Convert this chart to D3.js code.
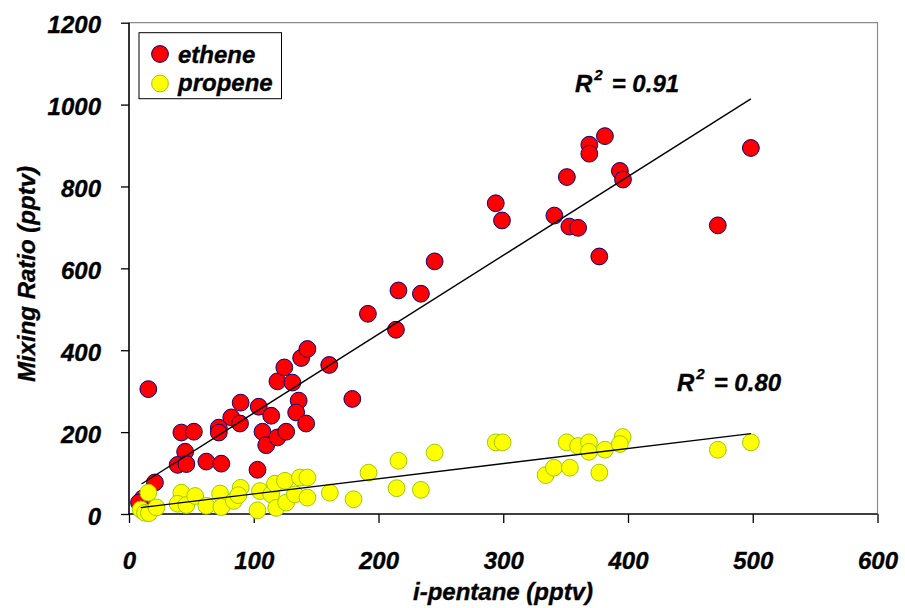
<!DOCTYPE html>
<html><head><meta charset="utf-8">
<script src="https://cdn.jsdelivr.net/npm/d3@7"></script>
<style>
html,body{margin:0;padding:0;background:#fff;}
svg text{font-family:"Liberation Sans Narrow","Arial Narrow","Liberation Sans",Arial,sans-serif;font-weight:bold;font-style:italic;fill:#000;stroke:#000;stroke-width:0.35px;}
</style></head>
<body><svg id="chart" width="905" height="608"></svg>
<script>
// ---- data ----
const ethX = [15.5,20.8,11,8,42,52,45,39,46,62,74,72,72,82,89.5,89,104,114,107,110,119,126,103,119,124.5,131,136,134,142,138,143,160.5,179,191.5,214,216,234,245,294,299,341,351,353,360,369,369,381.5,393.5,396,377,472,498.5];
const ethY = [305,77,38,28,199,201,152,120,122,128,123,211,199,236,272,221,262,240,201,168,187,201,108,324,358,321,277,248,221,381,403,364,281,489,450,546,538,617,759,717,729,823,702,699,902,880,923,838,817,629,705,894];
const propX = [15.5,9.4,12.8,16,22,42,39,46,53,62,73,74,84,89.5,87.6,103,105,114,118,117,125,126,133,137,143,143,161,180,192,216,214.5,234,245,294,299.5,334,340.6,353.4,350.8,360,368.7,368.7,381.5,377,395.7,393.5,472,498.5];
const propY = [52,11,3,2,16,52,25,22,44,20,50,17,32,64,46,9,56,48,15,74,81,28,48,89,89,40,52,36,101,130,63,59,150,175,175,95,113,113,175,166,175,152,157,101,188,171,157,175];
const seriesNames = ["ethene","propene"];
const trendSlope = [1.926, 0.370];
const trendIntercept = [54, 12];
const trendRange = [[10,498.5],[9.4,498.5]];
const r2Labels = ["0.91","0.80"];
const xTicks = [0,100,200,300,400,500,600];
const yTicks = [0,200,400,600,800,1000,1200];

// ---- layout ----
const svg = d3.select("#chart");
const L = 129, R = 877.5, T = 22.7, B = 514;
const x = d3.scaleLinear().domain([0,600]).range([L,R]);
const y = d3.scaleLinear().domain([0,1200]).range([B,T]);

// plot border (grey top/right)
svg.append("path").attr("d",`M${L},${T}H${R}V${B}`).attr("fill","none").attr("stroke","#8c8c8c").attr("stroke-width",1.2);

// axes
const yAxis = svg.append("g").attr("transform",`translate(${L},0)`)
  .call(d3.axisLeft(y).tickValues(yTicks).tickSize(8).tickFormat(d3.format("d")));
const xAxis = svg.append("g").attr("transform",`translate(0,${B})`)
  .call(d3.axisBottom(x).tickValues(xTicks).tickSize(9).tickFormat(d3.format("d")));
[yAxis,xAxis].forEach(g=>{
  g.select(".domain").attr("stroke","#000").attr("stroke-width",1.6);
  g.selectAll(".tick line").attr("stroke","#000").attr("stroke-width",1.3);
  g.selectAll("text").attr("font-size",24).attr("fill","#000");
  g.attr("font-family",null).attr("font-size",null);
});
yAxis.select(".domain").attr("d",`M0,${B}V${T}`);
xAxis.select(".domain").attr("d",`M${L},0H${R}`);
yAxis.selectAll(".tick text").attr("x",-28).attr("dy","0.42em");
xAxis.selectAll(".tick text").attr("y",55).attr("dy",0);

// points
const eth = d3.zip(ethX,ethY), prop = d3.zip(propX,propY);
svg.append("g").selectAll("circle").data(eth).join("circle")
  .attr("cx",d=>x(d[0])).attr("cy",d=>y(d[1])).attr("r",8.4)
  .attr("fill","#ff0000").attr("stroke","#000080").attr("stroke-width",1);
svg.append("g").selectAll("circle").data(prop).join("circle")
  .attr("cx",d=>x(d[0])).attr("cy",d=>y(d[1])).attr("r",8.4)
  .attr("fill","#ffff00").attr("stroke","#99cc00").attr("stroke-width",1);

// trend lines
trendSlope.forEach((s,i)=>{
  const [a,b] = trendRange[i];
  svg.append("line")
    .attr("x1",x(a)).attr("y1",y(s*a+trendIntercept[i]))
    .attr("x2",x(b)).attr("y2",y(s*b+trendIntercept[i]))
    .attr("stroke","#000").attr("stroke-width",1.4);
});

// R2 labels
const r2Pos = [[575,91.7],[677,390.7]];
r2Labels.forEach((v,i)=>{
  const t = svg.append("text").attr("x",r2Pos[i][0]).attr("y",r2Pos[i][1]).attr("font-size",24);
  t.append("tspan").text("R");
  t.append("tspan").attr("font-size",15).attr("dy",-12).attr("dx",2).text("2");
  t.append("tspan").attr("dy",12).attr("dx",9).text("= " + v);
});

// legend
const lg = svg.append("g");
lg.append("rect").attr("x",139).attr("y",32.7).attr("width",142.5).attr("height",66)
  .attr("fill","#fff").attr("stroke","#000").attr("stroke-width",1);
const legColors = [["#ff0000","#000080"],["#ffff00","#99cc00"]];
seriesNames.forEach((n,i)=>{
  lg.append("circle").attr("cx",160).attr("cy",54+i*29.5).attr("r",8.4)
    .attr("fill",legColors[i][0]).attr("stroke",legColors[i][1]).attr("stroke-width",1);
  lg.append("text").attr("x",178).attr("y",63.3+i*28).attr("font-size",24).text(n);
});

// axis titles
svg.append("text").attr("x",503).attr("y",600).attr("text-anchor","middle").attr("font-size",24).text("i-pentane (pptv)");
svg.append("text").attr("transform","translate(35,274) rotate(-90)").attr("text-anchor","middle").attr("font-size",24).text("Mixing Ratio (pptv)");
</script></body></html>
